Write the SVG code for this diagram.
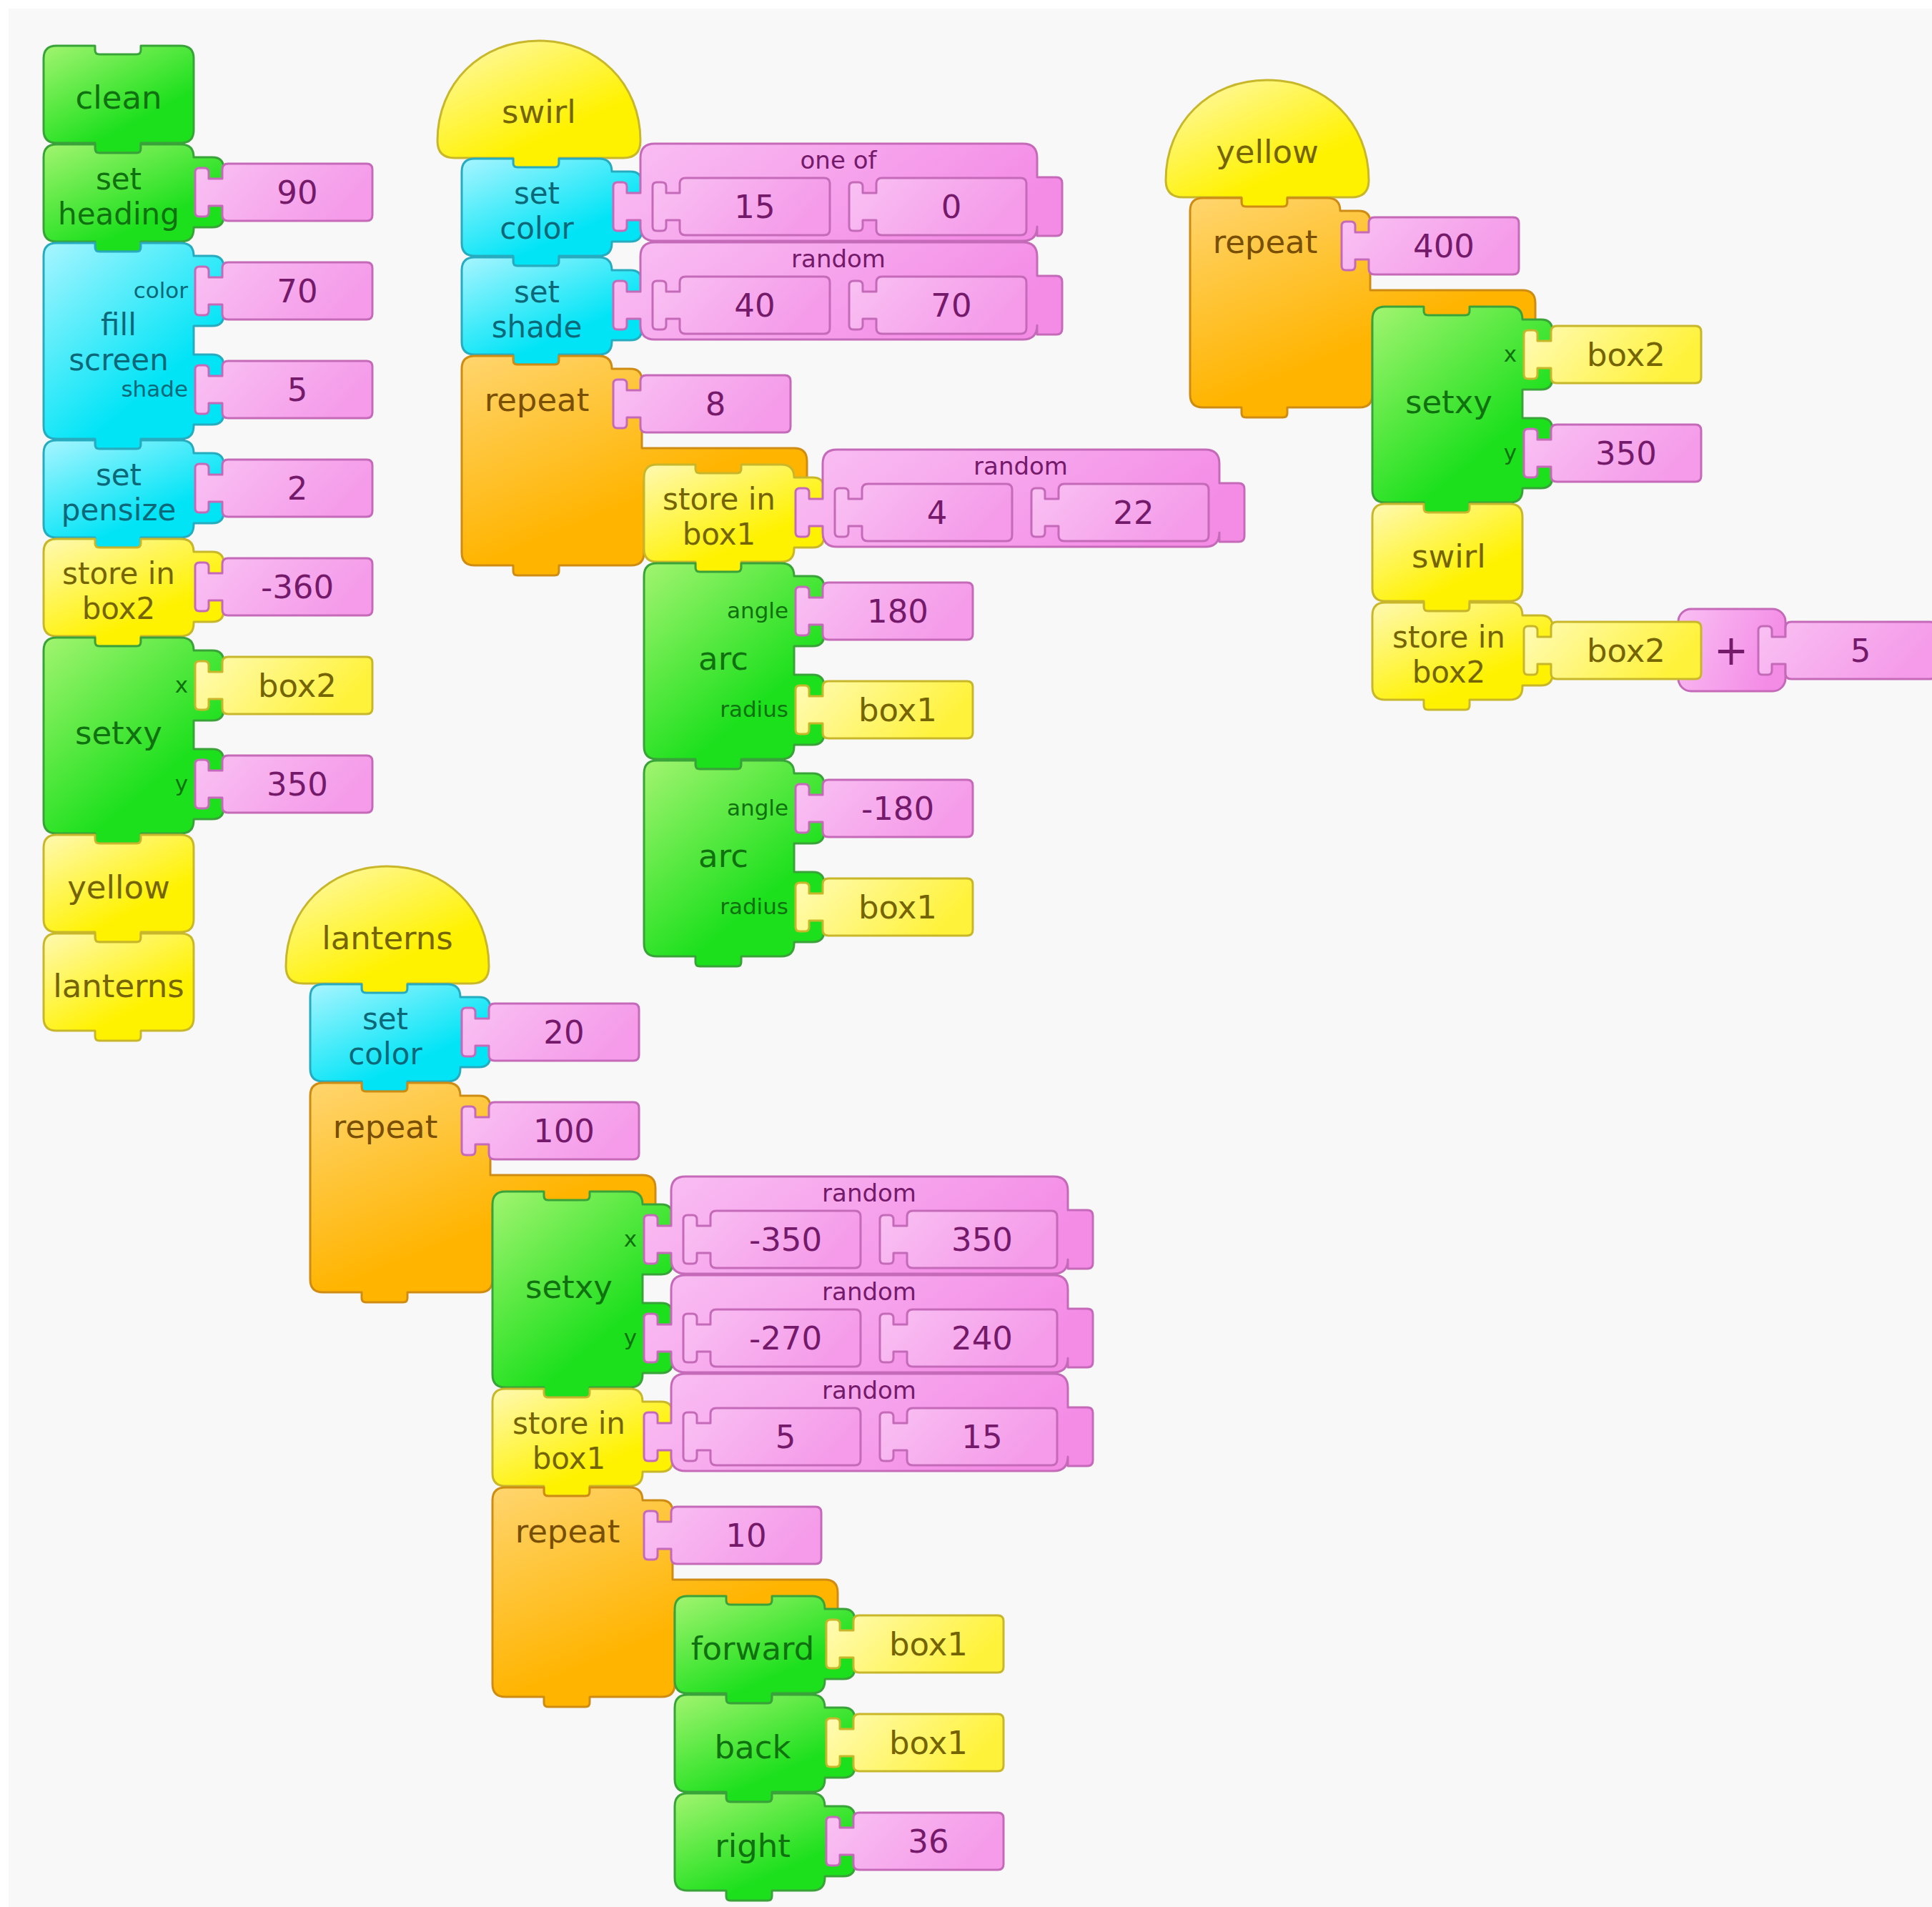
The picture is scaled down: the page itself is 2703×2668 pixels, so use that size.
<svg xmlns="http://www.w3.org/2000/svg" width="2703" height="2668" viewBox="0 0 2703 2668">
<defs>
  <linearGradient id="gG" x1="0" y1="0" x2="0.55" y2="0.75"><stop offset="0" stop-color="#a2f470"/><stop offset="1" stop-color="#1de01d"/></linearGradient>
  <linearGradient id="gC" x1="0" y1="0" x2="0.55" y2="0.75"><stop offset="0" stop-color="#a8f5ff"/><stop offset="1" stop-color="#00e4f6"/></linearGradient>
  <linearGradient id="gY" x1="0" y1="0" x2="0.55" y2="0.75"><stop offset="0" stop-color="#fff9b2"/><stop offset="1" stop-color="#fff200"/></linearGradient>
  <linearGradient id="gO" x1="0" y1="0" x2="0.45" y2="0.7"><stop offset="0" stop-color="#ffd56e"/><stop offset="1" stop-color="#ffb400"/></linearGradient>
  <linearGradient id="gP" x1="0" y1="0" x2="1" y2="0.3"><stop offset="0" stop-color="#f9bff3"/><stop offset="1" stop-color="#f48ce6"/></linearGradient>
  <linearGradient id="gPv" x1="0" y1="0" x2="1" y2="0.3"><stop offset="0" stop-color="#f9c1f3"/><stop offset="1" stop-color="#f59be9"/></linearGradient>
  <linearGradient id="gYv" x1="0" y1="0" x2="1" y2="0.3"><stop offset="0" stop-color="#fffbb6"/><stop offset="1" stop-color="#fff23a"/></linearGradient>

  <!-- command block, no argument -->
  <path id="cmd0" d="M18,0H72V6Q72,12 78,12H130Q136,12 136,6V0H192Q210,0 210,18V118Q210,136 192,136H136V144Q136,150 130,150H78Q72,150 72,144V136H18Q0,136 0,118V18Q0,0 18,0Z"/>
  <!-- command block, one argument socket -->
  <path id="cmd1" d="M18,0H72V6Q72,12 78,12H130Q136,12 136,6V0H192Q210,0 210,18H236Q252,18 252,34V100Q252,116 236,116H210V118Q210,136 192,136H136V144Q136,150 130,150H78Q72,150 72,144V136H18Q0,136 0,118V18Q0,0 18,0Z"/>
  <!-- command block, two argument sockets -->
  <path id="cmd2" d="M18,0H72V6Q72,12 78,12H130Q136,12 136,6V0H192Q210,0 210,18H236Q252,18 252,34V100Q252,116 236,116H210V156H236Q252,156 252,172V238Q252,254 236,254H210V256Q210,274 192,274H136V282Q136,288 130,288H78Q72,288 72,282V274H18Q0,274 0,256V18Q0,0 18,0Z"/>
  <!-- repeat clamp -->
  <path id="rep" d="M18,0H72V6Q72,12 78,12H130Q136,12 136,6V0H192Q210,0 210,18H236Q252,18 252,34V129H465Q483,129 483,147V175H255V275Q255,293 237,293H136V301Q136,307 130,307H78Q72,307 72,301V293H18Q0,293 0,275V18Q0,0 18,0Z"/>
  <!-- action hat -->
  <path id="hat" d="M0,140C0,60 60,0 142,0C224,0 284,60 284,140Q284,164 260,164H170V172Q170,178 164,178H112Q106,178 106,172V164H24Q0,164 0,140Z"/>
  <!-- value block with plug, origin at socket -->
  <path id="val" d="M48,-40H242Q250,-40 250,-32V32Q250,40 242,40H48Q40,40 40,32V19H21V28Q21,34 15,34H8Q2,34 2,28V-28Q2,-34 8,-34H15Q21,-34 21,-28V-19H40V-32Q40,-40 48,-40Z"/>
  <!-- two-argument number block (random / one of) -->
  <path id="rnd" d="M60,-88H575Q595,-88 595,-68V-41H622Q630,-41 630,-33V33Q630,41 622,41H595V28Q595,48 575,48H60Q40,48 40,28V19H21V28Q21,34 15,34H8Q2,34 2,28V-28Q2,-34 8,-34H15Q21,-34 21,-28V-19H40V-68Q40,-88 60,-88Z"/>
</defs>
<style>
  text { font-family: "DejaVu Sans", Verdana, sans-serif; font-size: 45px; text-anchor: middle; }
  .two { font-size: 42px; }
  .sm { font-size: 31px; text-anchor: end; }
  .lb { font-size: 34px; }
  .pl { font-size: 58px; }
  .bg { fill: url(#gG); stroke: #39a339; stroke-width: 3; stroke-linejoin: round; }
  .bc { fill: url(#gC); stroke: #26abbf; stroke-width: 3; stroke-linejoin: round; }
  .by { fill: url(#gY); stroke: #c8b72a; stroke-width: 3; stroke-linejoin: round; }
  .bo { fill: url(#gO); stroke: #cf8c12; stroke-width: 3; stroke-linejoin: round; }
  .bp { fill: url(#gP); stroke: #c56ab9; stroke-width: 3; stroke-linejoin: round; }
  .vp { fill: url(#gPv); stroke: #c56ab9; stroke-width: 3; stroke-linejoin: round; }
  .vy { fill: url(#gYv); stroke: #c8b72a; stroke-width: 3; stroke-linejoin: round; }
  .tg { fill: #0f710f; }
  .tc { fill: #0b6878; }
  .ty { fill: #746404; }
  .to { fill: #784f04; }
  .tp { fill: #751a6a; }
</style>

<rect width="2703" height="2668" fill="#ffffff"/>
<rect x="12" y="12" width="2691" height="2656" fill="#f8f8f8"/>

<!-- start stack -->
<g id="clean"><use href="#cmd0" x="61" y="64" class="bg"/><text x="166" y="152" class="tg">clean</text></g>
<g id="set-heading"><use href="#cmd1" x="61" y="202" class="bg"/><text x="166" y="265" class="two tg">set<tspan x="166" dy="49">heading</tspan></text>
  <use href="#val" x="271" y="269" class="vp"/><text x="416" y="285" class="tp">90</text></g>
<g id="fill-screen"><use href="#cmd2" x="61" y="340" class="bc"/>
  <text x="263" y="417" class="sm tc">color</text><text x="166" y="469" class="two tc">fill<tspan x="166" dy="49">screen</tspan></text><text x="263" y="555" class="sm tc">shade</text>
  <use href="#val" x="271" y="407" class="vp"/><text x="416" y="423" class="tp">70</text>
  <use href="#val" x="271" y="545" class="vp"/><text x="416" y="561" class="tp">5</text></g>
<g id="set-pensize"><use href="#cmd1" x="61" y="616" class="bc"/><text x="166" y="679" class="two tc">set<tspan x="166" dy="49">pensize</tspan></text>
  <use href="#val" x="271" y="683" class="vp"/><text x="416" y="699" class="tp">2</text></g>
<g id="store-box2-a"><use href="#cmd1" x="61" y="754" class="by"/><text x="166" y="817" class="two ty">store in<tspan x="166" dy="49">box2</tspan></text>
  <use href="#val" x="271" y="821" class="vp"/><text x="416" y="837" class="tp">-360</text></g>
<g id="setxy-a"><use href="#cmd2" x="61" y="892" class="bg"/>
  <text x="263" y="969" class="sm tg">x</text><text x="166" y="1041" class="tg">setxy</text><text x="263" y="1107" class="sm tg">y</text>
  <use href="#val" x="271" y="959" class="vy"/><text x="416" y="975" class="ty">box2</text>
  <use href="#val" x="271" y="1097" class="vp"/><text x="416" y="1113" class="tp">350</text></g>
<g id="call-yellow"><use href="#cmd0" x="61" y="1168" class="by"/><text x="166" y="1257" class="ty">yellow</text></g>
<g id="call-lanterns"><use href="#cmd0" x="61" y="1306" class="by"/><text x="166" y="1395" class="ty">lanterns</text></g>

<!-- swirl action -->
<g id="hat-swirl"><use href="#hat" x="612" y="57" class="by"/><text x="754" y="172" class="ty">swirl</text></g>
<g id="swirl-set-color"><use href="#cmd1" x="646" y="222" class="bc"/><text x="751" y="285" class="two tc">set<tspan x="751" dy="49">color</tspan></text>
  <use href="#rnd" x="856" y="289" class="bp"/><text x="1173" y="236" class="lb tp">one of</text>
  <use href="#val" x="911" y="289" class="vp"/><text x="1056" y="305" class="tp">15</text>
  <use href="#val" x="1186" y="289" class="vp"/><text x="1331" y="305" class="tp">0</text></g>
<g id="swirl-set-shade"><use href="#cmd1" x="646" y="360" class="bc"/><text x="751" y="423" class="two tc">set<tspan x="751" dy="49">shade</tspan></text>
  <use href="#rnd" x="856" y="427" class="bp"/><text x="1173" y="374" class="lb tp">random</text>
  <use href="#val" x="911" y="427" class="vp"/><text x="1056" y="443" class="tp">40</text>
  <use href="#val" x="1186" y="427" class="vp"/><text x="1331" y="443" class="tp">70</text></g>
<g id="swirl-repeat"><use href="#rep" x="646" y="498" class="bo"/><text x="751" y="575" class="to">repeat</text>
  <use href="#val" x="856" y="565" class="vp"/><text x="1001" y="581" class="tp">8</text></g>
<g id="swirl-store-box1"><use href="#cmd1" x="901" y="650" class="by"/><text x="1006" y="713" class="two ty">store in<tspan x="1006" dy="49">box1</tspan></text>
  <use href="#rnd" x="1111" y="717" class="bp"/><text x="1428" y="664" class="lb tp">random</text>
  <use href="#val" x="1166" y="717" class="vp"/><text x="1311" y="733" class="tp">4</text>
  <use href="#val" x="1441" y="717" class="vp"/><text x="1586" y="733" class="tp">22</text></g>
<g id="swirl-arc-1"><use href="#cmd2" x="901" y="788" class="bg"/>
  <text x="1103" y="865" class="sm tg">angle</text><text x="1012" y="937" class="tg">arc</text><text x="1103" y="1003" class="sm tg">radius</text>
  <use href="#val" x="1111" y="855" class="vp"/><text x="1256" y="871" class="tp">180</text>
  <use href="#val" x="1111" y="993" class="vy"/><text x="1256" y="1009" class="ty">box1</text></g>
<g id="swirl-arc-2"><use href="#cmd2" x="901" y="1064" class="bg"/>
  <text x="1103" y="1141" class="sm tg">angle</text><text x="1012" y="1213" class="tg">arc</text><text x="1103" y="1279" class="sm tg">radius</text>
  <use href="#val" x="1111" y="1131" class="vp"/><text x="1256" y="1147" class="tp">-180</text>
  <use href="#val" x="1111" y="1269" class="vy"/><text x="1256" y="1285" class="ty">box1</text></g>

<!-- yellow action -->
<g id="hat-yellow"><use href="#hat" x="1631" y="112" class="by"/><text x="1773" y="228" class="ty">yellow</text></g>
<g id="yellow-repeat"><use href="#rep" x="1665" y="277" class="bo"/><text x="1770" y="354" class="to">repeat</text>
  <use href="#val" x="1875" y="344" class="vp"/><text x="2020" y="360" class="tp">400</text></g>
<g id="yellow-setxy"><use href="#cmd2" x="1920" y="429" class="bg"/>
  <text x="2122" y="506" class="sm tg">x</text><text x="2027" y="578" class="tg">setxy</text><text x="2122" y="644" class="sm tg">y</text>
  <use href="#val" x="2130" y="496" class="vy"/><text x="2275" y="512" class="ty">box2</text>
  <use href="#val" x="2130" y="634" class="vp"/><text x="2275" y="650" class="tp">350</text></g>
<g id="yellow-call-swirl"><use href="#cmd0" x="1920" y="705" class="by"/><text x="2027" y="794" class="ty">swirl</text></g>
<g id="yellow-store-box2"><use href="#cmd1" x="1920" y="843" class="by"/><text x="2027" y="906" class="two ty">store in<tspan x="2027" dy="49">box2</tspan></text>
  <rect x="2348" y="852" width="150" height="115" rx="18" class="bp"/>
  <use href="#val" x="2130" y="910" class="vy"/><text x="2275" y="926" class="ty">box2</text>
  <text x="2422" y="930" class="pl tp">+</text>
  <use href="#val" x="2458" y="910" class="vp"/><text x="2603" y="926" class="tp">5</text></g>

<!-- lanterns action -->
<g id="hat-lanterns"><use href="#hat" x="400" y="1212" class="by"/><text x="542" y="1328" class="ty">lanterns</text></g>
<g id="lanterns-set-color"><use href="#cmd1" x="434" y="1377" class="bc"/><text x="539" y="1440" class="two tc">set<tspan x="539" dy="49">color</tspan></text>
  <use href="#val" x="644" y="1444" class="vp"/><text x="789" y="1460" class="tp">20</text></g>
<g id="lanterns-repeat"><use href="#rep" x="434" y="1515" class="bo"/><text x="539" y="1592" class="to">repeat</text>
  <use href="#val" x="644" y="1582" class="vp"/><text x="789" y="1598" class="tp">100</text></g>
<g id="lanterns-setxy"><use href="#cmd2" x="689" y="1667" class="bg"/>
  <text x="891" y="1744" class="sm tg">x</text><text x="796" y="1816" class="tg">setxy</text><text x="891" y="1882" class="sm tg">y</text>
  <use href="#rnd" x="899" y="1734" class="bp"/><text x="1216" y="1681" class="lb tp">random</text>
  <use href="#val" x="954" y="1734" class="vp"/><text x="1099" y="1750" class="tp">-350</text>
  <use href="#val" x="1229" y="1734" class="vp"/><text x="1374" y="1750" class="tp">350</text>
  <use href="#rnd" x="899" y="1872" class="bp"/><text x="1216" y="1819" class="lb tp">random</text>
  <use href="#val" x="954" y="1872" class="vp"/><text x="1099" y="1888" class="tp">-270</text>
  <use href="#val" x="1229" y="1872" class="vp"/><text x="1374" y="1888" class="tp">240</text></g>
<g id="lanterns-store-box1"><use href="#cmd1" x="689" y="1943" class="by"/><text x="796" y="2006" class="two ty">store in<tspan x="796" dy="49">box1</tspan></text>
  <use href="#rnd" x="899" y="2010" class="bp"/><text x="1216" y="1957" class="lb tp">random</text>
  <use href="#val" x="954" y="2010" class="vp"/><text x="1099" y="2026" class="tp">5</text>
  <use href="#val" x="1229" y="2010" class="vp"/><text x="1374" y="2026" class="tp">15</text></g>
<g id="lanterns-repeat-inner"><use href="#rep" x="689" y="2081" class="bo"/><text x="794" y="2158" class="to">repeat</text>
  <use href="#val" x="899" y="2148" class="vp"/><text x="1044" y="2164" class="tp">10</text></g>
<g id="lanterns-forward"><use href="#cmd1" x="944" y="2233" class="bg"/><text x="1053" y="2322" class="tg">forward</text>
  <use href="#val" x="1154" y="2300" class="vy"/><text x="1299" y="2316" class="ty">box1</text></g>
<g id="lanterns-back"><use href="#cmd1" x="944" y="2371" class="bg"/><text x="1053" y="2460" class="tg">back</text>
  <use href="#val" x="1154" y="2438" class="vy"/><text x="1299" y="2454" class="ty">box1</text></g>
<g id="lanterns-right"><use href="#cmd1" x="944" y="2509" class="bg"/><text x="1053" y="2598" class="tg">right</text>
  <use href="#val" x="1154" y="2576" class="vp"/><text x="1299" y="2592" class="tp">36</text></g>
</svg>
